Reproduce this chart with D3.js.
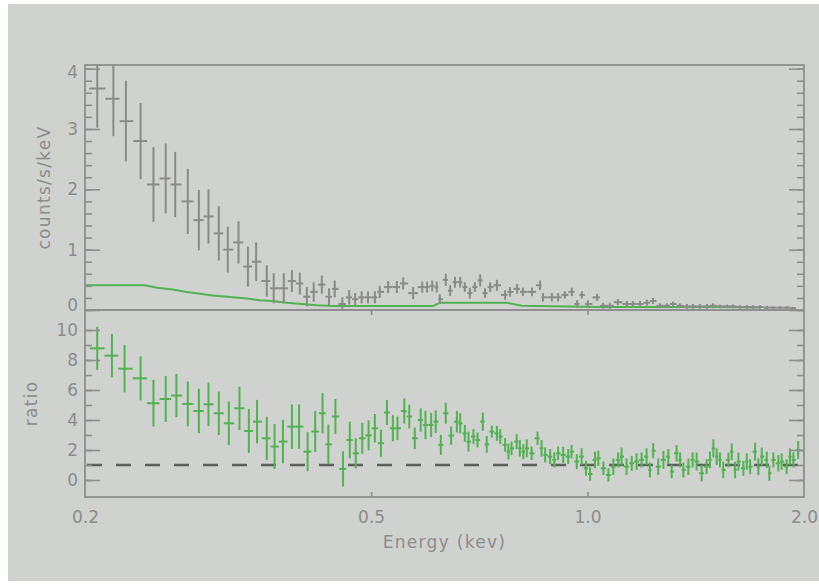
<!DOCTYPE html>
<html>
<head>
<meta charset="utf-8">
<script src="https://cdn.jsdelivr.net/npm/d3@7"></script>
<style>
  body { margin: 0; background: #ffffff; }
  text { font-family: "DejaVu Sans", sans-serif; }
</style>
</head>
<body>
<div id="chart"></div>
<script>
// x axis (keV)
const xTicks = [0.2, 0.5, 1.0, 2.0];
const xTickLabels = ["0.2", "0.5", "1.0", "2.0"];
const xMarks = [0.5, 1.0];

// upper panel: counts/s/keV
const countTicks = [0, 1, 2, 3, 4];
const countE = [0.208, 0.219, 0.228, 0.239, 0.249, 0.259, 0.267, 0.278, 0.288, 0.297,
    0.307, 0.316, 0.327, 0.337, 0.346, 0.358, 0.366, 0.378, 0.388, 0.398,
    0.407, 0.416, 0.427, 0.437, 0.445, 0.456, 0.466, 0.475, 0.485, 0.495,
    0.506, 0.514, 0.528, 0.543, 0.554, 0.572, 0.589, 0.598, 0.608, 0.617,
    0.623, 0.635, 0.644, 0.654, 0.665, 0.675, 0.686, 0.697, 0.709, 0.720,
    0.732, 0.748, 0.768, 0.780, 0.798, 0.813, 0.837, 0.859, 0.867, 0.892,
    0.910, 0.930, 0.951, 0.967, 0.982, 1.001, 1.031, 1.051, 1.074, 1.102,
    1.134, 1.156, 1.183, 1.209, 1.233, 1.261, 1.289, 1.315, 1.344, 1.375,
    1.402, 1.433, 1.466, 1.494, 1.528, 1.563, 1.593, 1.629, 1.666, 1.699,
    1.737, 1.776, 1.811, 1.852, 1.894, 1.931];
const countRate = [3.67, 3.50, 3.13, 2.80, 2.08, 2.18, 2.08, 1.80, 1.49, 1.55,
    1.27, 1.00, 1.12, 0.72, 0.80, 0.48, 0.36, 0.36, 0.48, 0.44,
    0.22, 0.30, 0.42, 0.22, 0.35, 0.10, 0.21, 0.18, 0.21, 0.21,
    0.21, 0.30, 0.38, 0.38, 0.44, 0.28, 0.38, 0.38, 0.40, 0.38,
    0.18, 0.50, 0.32, 0.46, 0.46, 0.38, 0.28, 0.38, 0.49, 0.28,
    0.38, 0.41, 0.25, 0.30, 0.35, 0.30, 0.30, 0.41, 0.21, 0.21,
    0.21, 0.25, 0.30, 0.10, 0.25, 0.10, 0.21, 0.07, 0.07, 0.13,
    0.10, 0.10, 0.10, 0.12, 0.15, 0.07, 0.07, 0.10, 0.07, 0.06,
    0.06, 0.06, 0.06, 0.07, 0.06, 0.06, 0.06, 0.05, 0.05, 0.05,
    0.05, 0.04, 0.04, 0.04, 0.04, 0.03];
const countErr = [0.65, 0.62, 0.67, 0.63, 0.62, 0.58, 0.54, 0.54, 0.50, 0.45,
    0.45, 0.38, 0.35, 0.33, 0.32, 0.26, 0.25, 0.25, 0.18, 0.18,
    0.16, 0.16, 0.15, 0.14, 0.14, 0.11, 0.12, 0.10, 0.10, 0.10,
    0.10, 0.10, 0.10, 0.10, 0.10, 0.10, 0.09, 0.09, 0.09, 0.09,
    0.08, 0.10, 0.09, 0.09, 0.09, 0.08, 0.09, 0.08, 0.10, 0.08,
    0.08, 0.09, 0.08, 0.08, 0.08, 0.07, 0.07, 0.08, 0.07, 0.07,
    0.07, 0.06, 0.07, 0.06, 0.06, 0.06, 0.06, 0.05, 0.05, 0.05,
    0.05, 0.05, 0.05, 0.05, 0.05, 0.04, 0.04, 0.04, 0.04, 0.04,
    0.04, 0.04, 0.04, 0.04, 0.03, 0.03, 0.03, 0.03, 0.03, 0.03,
    0.03, 0.03, 0.02, 0.02, 0.02, 0.02];

// model curve in the upper panel
const modelE = [0.200, 0.242, 0.252, 0.265, 0.277, 0.289, 0.301, 0.321, 0.336, 0.350,
    0.364, 0.382, 0.420, 0.442, 0.610, 0.623, 0.773, 0.810, 1.040, 1.530, 1.740];
const modelRate = [0.41, 0.41, 0.37, 0.34, 0.30, 0.27, 0.24, 0.21, 0.19, 0.16,
    0.15, 0.12, 0.08, 0.065, 0.065, 0.12, 0.12, 0.07, 0.05, 0.05, 0.04];

// lower panel: ratio
const ratioTicks = [0, 2, 4, 6, 8, 10];
const ratioE = [0.208, 0.218, 0.227, 0.239, 0.249, 0.259, 0.268, 0.278, 0.288, 0.297,
    0.307, 0.317, 0.328, 0.338, 0.347, 0.358, 0.367, 0.377, 0.388, 0.397,
    0.408, 0.418, 0.428, 0.436, 0.446, 0.457, 0.467, 0.476, 0.486, 0.496,
    0.506, 0.516, 0.526, 0.536, 0.544, 0.556, 0.565, 0.575, 0.586, 0.595,
    0.606, 0.615, 0.625, 0.635, 0.646, 0.658, 0.665, 0.675, 0.683, 0.694,
    0.703, 0.715, 0.724, 0.736, 0.748, 0.756, 0.768, 0.776, 0.784, 0.797,
    0.805, 0.814, 0.823, 0.836, 0.852, 0.863, 0.873, 0.887, 0.899, 0.910,
    0.925, 0.940, 0.950, 0.966, 0.981, 0.995, 1.008, 1.024, 1.035, 1.052,
    1.069, 1.086, 1.103, 1.115, 1.133, 1.152, 1.170, 1.189, 1.208, 1.221,
    1.234, 1.254, 1.275, 1.295, 1.309, 1.330, 1.345, 1.359, 1.381, 1.400,
    1.418, 1.441, 1.464, 1.480, 1.496, 1.512, 1.528, 1.544, 1.570, 1.587,
    1.604, 1.621, 1.647, 1.665, 1.683, 1.710, 1.728, 1.747, 1.775, 1.790,
    1.813, 1.842, 1.862, 1.892, 1.912, 1.933, 1.963];
const ratio = [8.78, 8.29, 7.42, 6.78, 5.12, 5.40, 5.63, 5.07, 4.60, 5.05,
    4.45, 3.78, 4.78, 3.27, 3.89, 2.78, 2.23, 2.56, 3.56, 3.56,
    1.89, 3.23, 4.45, 2.38, 4.23, 0.74, 2.67, 1.78, 2.78, 2.98,
    3.45, 2.45, 4.50, 3.45, 3.45, 4.60, 4.23, 2.78, 4.00, 3.67,
    3.67, 3.89, 2.34, 4.45, 2.96, 3.89, 3.78, 3.11, 2.56, 2.89,
    2.67, 3.89, 2.38, 3.23, 3.11, 2.89, 2.34, 1.89, 2.11, 2.56,
    2.11, 1.89, 2.11, 1.78, 2.78, 2.11, 1.67, 1.56, 1.34, 1.78,
    1.67, 1.56, 1.89, 1.23, 1.56, 0.78, 0.40, 1.34, 1.45, 0.78,
    0.34, 0.89, 1.34, 1.56, 0.89, 1.11, 1.23, 1.34, 1.56, 0.67,
    1.95, 0.89, 1.34, 1.56, 0.56, 1.78, 1.34, 0.67, 0.89, 1.34,
    1.23, 0.45, 0.89, 1.34, 2.11, 1.56, 1.34, 0.67, 1.34, 1.89,
    0.67, 1.23, 0.78, 1.23, 0.89, 1.89, 0.89, 1.56, 1.34, 0.45,
    1.34, 1.11, 1.23, 0.89, 1.56, 1.34, 2.00];
const ratioErr = [1.44, 1.45, 1.58, 1.47, 1.56, 1.53, 1.44, 1.49, 1.48, 1.45,
    1.45, 1.45, 1.44, 1.47, 1.45, 1.44, 1.50, 1.45, 1.48, 1.48,
    1.30, 1.36, 1.34, 1.32, 1.17, 1.17, 1.22, 1.00, 1.03, 1.00,
    0.95, 0.91, 0.84, 0.87, 0.78, 0.84, 0.80, 0.72, 0.78, 0.95,
    0.80, 0.75, 0.67, 0.70, 0.61, 0.72, 0.67, 0.56, 0.67, 0.50,
    0.50, 0.61, 0.56, 0.40, 0.50, 0.50, 0.45, 0.53, 0.45, 0.50,
    0.55, 0.50, 0.60, 0.45, 0.45, 0.55, 0.50, 0.50, 0.50, 0.45,
    0.55, 0.50, 0.45, 0.50, 0.55, 0.50, 0.45, 0.55, 0.50, 0.45,
    0.45, 0.55, 0.50, 0.60, 0.55, 0.50, 0.55, 0.50, 0.55, 0.50,
    0.50, 0.55, 0.60, 0.50, 0.45, 0.55, 0.50, 0.50, 0.55, 0.50,
    0.60, 0.55, 0.50, 0.55, 0.60, 0.55, 0.50, 0.55, 0.50, 0.55,
    0.55, 0.60, 0.50, 0.55, 0.50, 0.60, 0.55, 0.60, 0.55, 0.50,
    0.50, 0.55, 0.55, 0.50, 0.55, 0.50, 0.60];
const ratioLevel = 1;

const width = 819, height = 584;
const pLeft = 85, pRight = 804, pTop = 65, pMid = 310, pBottom = 497;
const frameColor = "#8e8e8e", textColor = "#8c8c8c";
const grey = "#8a8a8a", green = "#52b152";

const svg = d3.select("#chart").append("svg")
    .attr("width", width)
    .attr("height", height);

svg.append("rect")
    .attr("x", 8).attr("y", 4)
    .attr("width", width - 8).attr("height", 577)
    .attr("fill", "#d0d2cf");

const x = d3.scaleLog().domain([0.2, 2.0]).range([pLeft, pRight]);
const yTop = d3.scaleLinear().domain([0, 4.06]).range([pMid, pTop]);
const yBot = d3.scaleLinear().domain([-17 / 15, 170 / 15]).range([pBottom, pMid]);

const defs = svg.append("defs");
defs.append("clipPath").attr("id", "clipTop").append("rect")
    .attr("x", pLeft).attr("y", pTop).attr("width", pRight - pLeft).attr("height", pMid - pTop);
defs.append("clipPath").attr("id", "clipBot").append("rect")
    .attr("x", pLeft).attr("y", pMid).attr("width", pRight - pLeft).attr("height", pBottom - pMid);

// bin edges halfway (in log) between neighbouring energies
function binEdges(es) {
    return es.map((e, i) => {
        const prev = i > 0 ? es[i - 1] : e * e / es[i + 1];
        const next = i < es.length - 1 ? es[i + 1] : e * e / es[i - 1];
        return [Math.sqrt(prev * e), Math.sqrt(e * next)];
    });
}

function drawErrors(g, es, vals, errs, y, color) {
    const edges = binEdges(es);
    const pts = es.map((e, i) => ({ e: e, v: vals[i], err: errs[i], lo: edges[i][0], hi: edges[i][1] }));
    g.selectAll(".ebar").data(pts).enter().append("line")
        .attr("x1", d => x(d.e)).attr("x2", d => x(d.e))
        .attr("y1", d => y(d.v + d.err)).attr("y2", d => y(d.v - d.err))
        .attr("stroke", color).attr("stroke-width", 2);
    g.selectAll(".hbar").data(pts).enter().append("line")
        .attr("x1", d => x(d.lo)).attr("x2", d => x(d.hi))
        .attr("y1", d => y(d.v)).attr("y2", d => y(d.v))
        .attr("stroke", color).attr("stroke-width", 2);
}

// upper panel
const gTop = svg.append("g").attr("clip-path", "url(#clipTop)");
gTop.append("path")
    .datum(modelE.map((e, i) => [e, modelRate[i]]))
    .attr("fill", "none")
    .attr("stroke", green)
    .attr("stroke-width", 2)
    .attr("d", d3.line().x(d => x(d[0])).y(d => yTop(d[1])));
drawErrors(gTop, countE, countRate, countErr, yTop, grey);

// lower panel
const gBot = svg.append("g").attr("clip-path", "url(#clipBot)");
gBot.append("line")
    .attr("x1", pLeft).attr("x2", pRight)
    .attr("y1", yBot(ratioLevel)).attr("y2", yBot(ratioLevel))
    .attr("stroke", "#5e5e5e")
    .attr("stroke-width", 2.5)
    .attr("stroke-dasharray", "15,14")
    .attr("stroke-dashoffset", -2);
drawErrors(gBot, ratioE, ratio, ratioErr, yBot, green);

// y ticks, both sides of each panel
function yTicks(scale, majors, minors, clampTop, clampBottom) {
    const gl = svg.append("g").attr("transform", `translate(${pLeft},0)`)
        .call(d3.axisLeft(scale).tickValues(minors).tickSize(-7).tickFormat(""));
    const gr = svg.append("g").attr("transform", `translate(${pRight},0)`)
        .call(d3.axisRight(scale).tickValues(minors).tickSize(-7).tickFormat(""));
    const gL = svg.append("g").attr("transform", `translate(${pLeft},0)`)
        .call(d3.axisLeft(scale).tickValues(majors).tickSize(-15).tickPadding(7).tickFormat(d3.format("d")));
    const gR = svg.append("g").attr("transform", `translate(${pRight},0)`)
        .call(d3.axisRight(scale).tickValues(majors).tickSize(-15).tickFormat(""));
    [gl, gr, gL, gR].forEach(g => {
        g.select(".domain").remove();
        g.attr("color", frameColor);
        g.selectAll("line").attr("stroke-width", 1.6);
    });
    gL.attr("font-family", "DejaVu Sans").attr("font-size", 17);
    gL.selectAll("text")
        .attr("fill", textColor)
        .attr("y", d => Math.min(Math.max(scale(d), clampTop), clampBottom) - scale(d));
}
yTicks(yTop, countTicks, d3.range(0, 4.05, 0.2), pTop + 7, pMid - 5);
yTicks(yBot, ratioTicks, d3.range(0, 10.5, 1), pMid + 7, pBottom);

// x ticks on the lower panel
const gx1 = svg.append("g").attr("transform", `translate(0,${pBottom})`)
    .call(d3.axisBottom(x).tickValues(xMarks).tickSize(-5).tickFormat(""));
const gx2 = svg.append("g").attr("transform", `translate(0,${pMid})`)
    .call(d3.axisTop(x).tickValues(xMarks).tickSize(-5).tickFormat(""));
const gx3 = svg.append("g").attr("transform", `translate(0,${pBottom})`)
    .call(d3.axisBottom(x).tickValues(xTicks).tickSize(0).tickPadding(14)
        .tickFormat((d, i) => xTickLabels[i]));
[gx1, gx2, gx3].forEach(g => {
    g.select(".domain").remove();
    g.attr("color", frameColor);
    g.selectAll("line").attr("stroke-width", 1.6);
});
gx3.attr("font-family", "DejaVu Sans").attr("font-size", 17);
gx3.selectAll("text").attr("fill", textColor);

// frames
[[pTop, pMid], [pMid, pBottom]].forEach(p => {
    svg.append("rect")
        .attr("x", pLeft).attr("y", p[0])
        .attr("width", pRight - pLeft).attr("height", p[1] - p[0])
        .attr("fill", "none")
        .attr("stroke", frameColor)
        .attr("stroke-width", 1.8);
});

// axis titles
svg.append("text")
    .attr("x", (pLeft + pRight) / 2).attr("y", 548)
    .attr("text-anchor", "middle")
    .attr("font-size", 17).attr("letter-spacing", 1.3)
    .attr("fill", textColor)
    .text("Energy (kev)");
svg.append("text")
    .attr("transform", `translate(50,${(pTop + pMid) / 2}) rotate(-90)`)
    .attr("text-anchor", "middle")
    .attr("font-size", 17).attr("letter-spacing", 1.3)
    .attr("fill", textColor)
    .text("counts/s/keV");
svg.append("text")
    .attr("transform", `translate(37,${(pMid + pBottom) / 2}) rotate(-90)`)
    .attr("text-anchor", "middle")
    .attr("font-size", 17).attr("letter-spacing", 1.3)
    .attr("fill", textColor)
    .text("ratio");
</script>
</body>
</html>
